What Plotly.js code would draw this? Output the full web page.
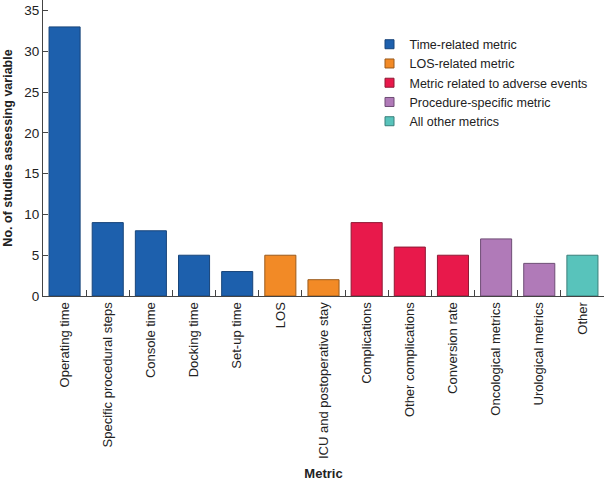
<!DOCTYPE html>
<html>
<head>
<meta charset="utf-8">
<script src="https://cdn.plot.ly/plotly-3.0.1.min.js"></script>
<style>
  html, body { margin: 0; padding: 0; background: #fff; }
  #chart { width: 605px; height: 481px; }
</style>
</head>
<body>
<div id="chart"></div>
<script>
// categories in display order
var metrics = [
    'Operating time', 'Specific procedural steps', 'Console time', 'Docking time', 'Set-up time',
    'LOS', 'ICU and postoperative stay',
    'Complications', 'Other complications', 'Conversion rate',
    'Oncological metrics', 'Urological metrics',
    'Other'
];
var studies = [33, 9, 8, 5, 3, 5, 2, 9, 6, 5, 7, 4, 5];
var groupOf = [0, 0, 0, 0, 0, 1, 1, 2, 2, 2, 3, 3, 4];

var groupNames = [
    'Time-related metric',
    'LOS-related metric',
    'Metric related to adverse events',
    'Procedure-specific metric',
    'All other metrics'
];
var groupColors = ['#1d60ad', '#f28a26', '#e8194b', '#b07ab8', '#58c3bb'];
var groupEdges = ['#18457a', '#9a5a1c', '#8f1a35', '#6e4d75', '#3a7f7a'];

var traces = [];
groupNames.forEach(function (name, g) {
    var xs = [], ys = [];
    for (var i = 0; i < metrics.length; i++) {
        if (groupOf[i] === g) {
            xs.push(metrics[i]);
            ys.push(studies[i]);
        }
    }
    traces.push({
        type: 'bar',
        name: name,
        x: xs,
        y: ys,
        width: 0.72,
        showlegend: false,
        marker: {color: groupColors[g], line: {color: groupEdges[g], width: 1}},
        hoverinfo: 'x+y'
    });
});
// legend keys: small squares, like the original
groupNames.forEach(function (name, g) {
    traces.push({
        type: 'scatter',
        mode: 'markers',
        name: name,
        x: [null],
        y: [null],
        marker: {symbol: 'square', size: 9, color: groupColors[g], line: {color: groupEdges[g], width: 1}}
    });
});

var font = 'Liberation Sans, Arial, Helvetica, sans-serif';

var layout = {
    width: 605,
    height: 481,
    margin: {l: 43, r: 1, t: 0, b: 185},
    paper_bgcolor: '#fff',
    plot_bgcolor: '#fff',
    barmode: 'overlay',
    showlegend: true,
    font: {family: font, size: 13, color: '#222'},
    legend: {
        x: 0.582, y: 0.9, xanchor: 'left', yanchor: 'top',
        bgcolor: 'rgba(0,0,0,0)',
        font: {family: font, size: 12.5, color: '#222'},
        tracegroupgap: 0,
        itemwidth: 30
    },
    xaxis: {
        type: 'category',
        categoryorder: 'array',
        categoryarray: metrics,
        range: [-0.5, 12.5],
        showline: true,
        linecolor: '#444',
        linewidth: 1,
        ticks: 'inside',
        tickson: 'boundaries',
        ticklen: 6,
        tickcolor: '#444',
        tickangle: -90,
        tickfont: {family: font, size: 13, color: '#222'},
        showgrid: false,
        zeroline: false,
        fixedrange: true,
        title: {text: '<b>Metric</b>', font: {family: font, size: 13, color: '#222'}, standoff: 10}
    },
    yaxis: {
        range: [0, 36.3],
        tickvals: [0, 5, 10, 15, 20, 25, 30, 35],
        showline: true,
        linecolor: '#444',
        linewidth: 1,
        ticks: 'inside',
        ticklen: 5,
        tickcolor: '#444',
        tickfont: {family: font, size: 13.5, color: '#222'},
        showgrid: false,
        zeroline: false,
        fixedrange: true,
        title: {text: '<b>No. of studies assessing variable</b>', font: {family: font, size: 12.5, color: '#222'}, standoff: 8}
    }
};

Plotly.newPlot('chart', traces, layout, {displayModeBar: false, staticPlot: true});
</script>
</body>
</html>
